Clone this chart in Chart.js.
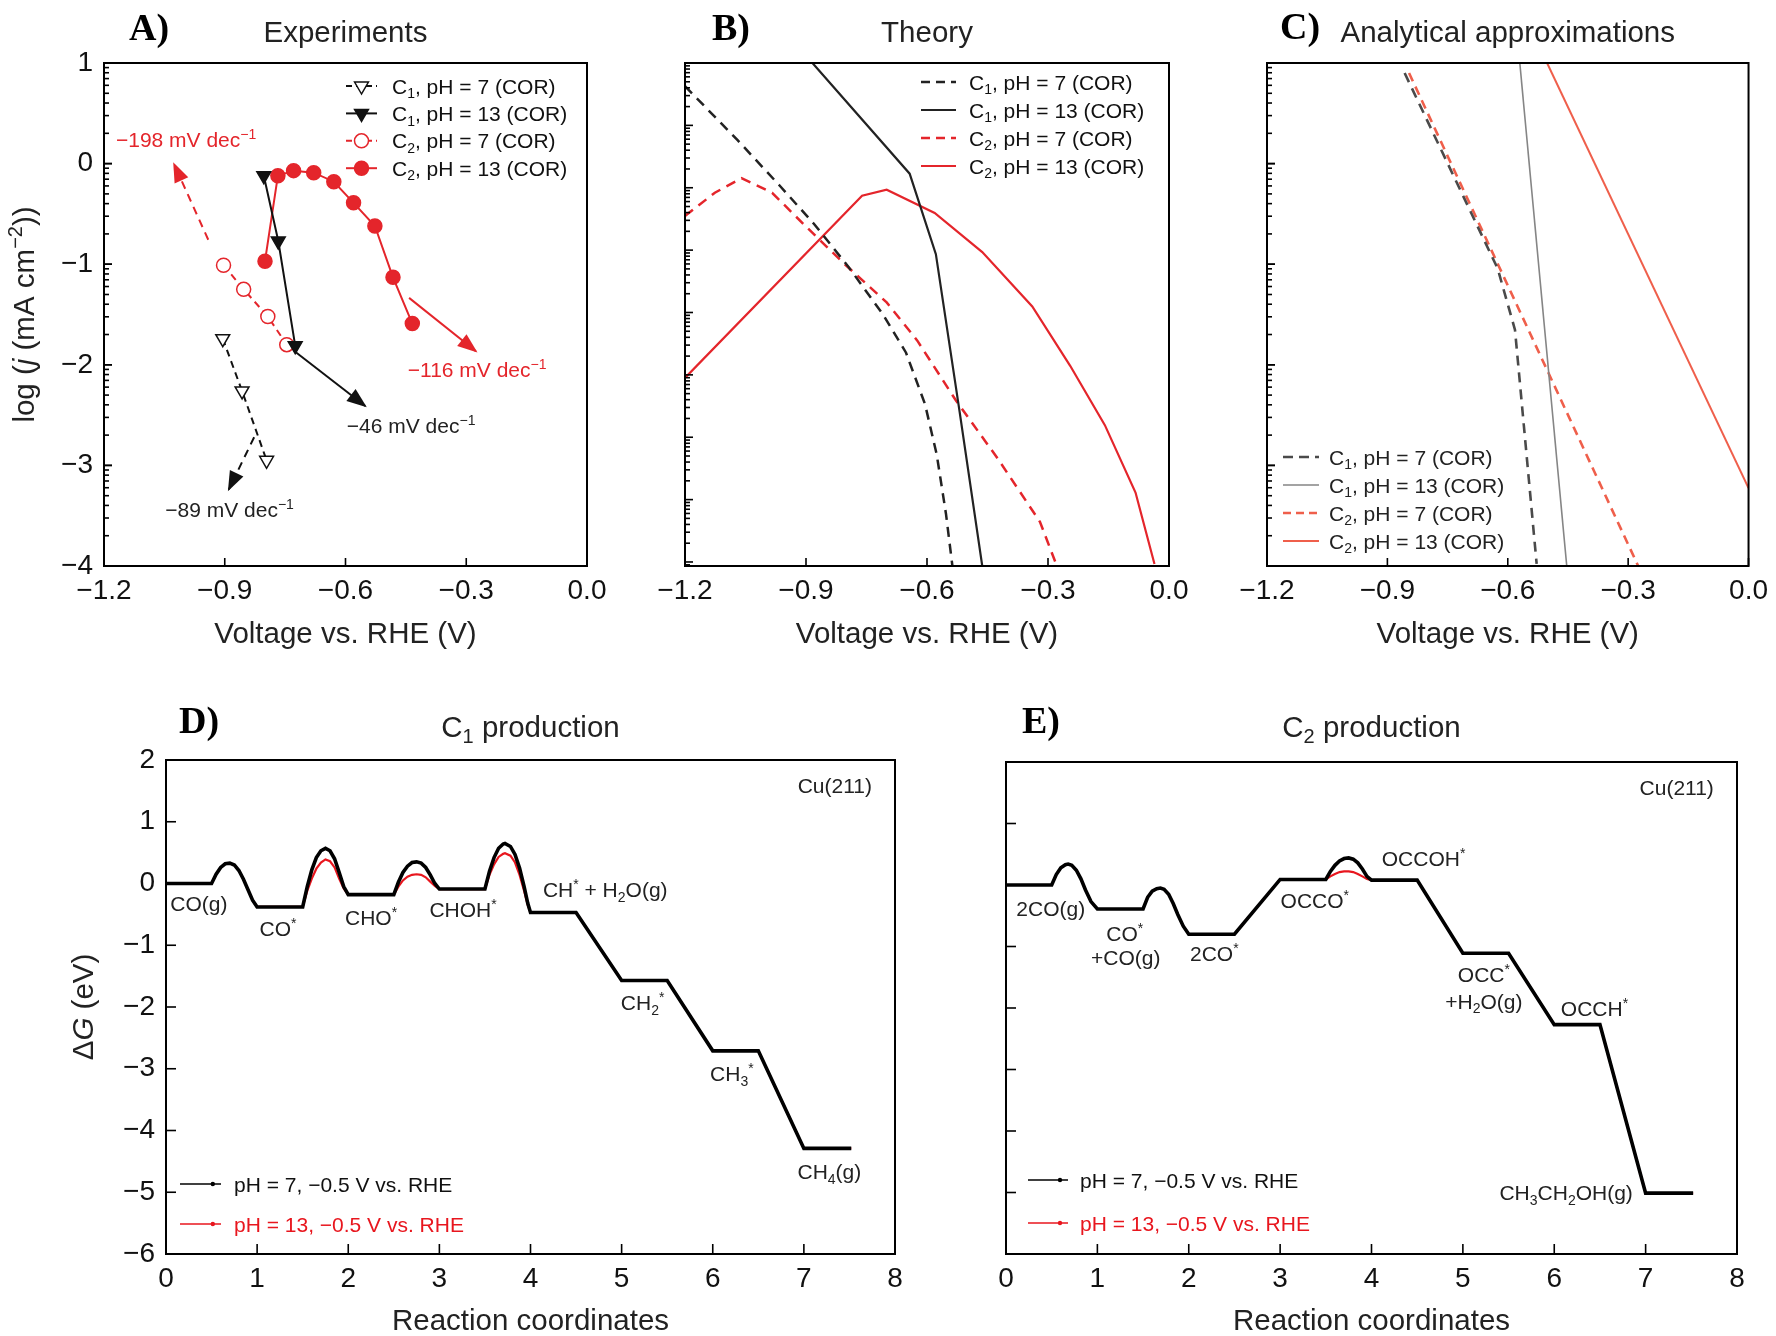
<!DOCTYPE html>
<html><head><meta charset="utf-8">
<script src="https://cdn.jsdelivr.net/npm/chart.js@4.4.1/dist/chart.umd.min.js"></script>
<style>
html,body{margin:0;padding:0;background:#fff;}
#wrap{position:relative;width:1776px;height:1336px;background:#fff;overflow:hidden;}
canvas{position:absolute;}
</style></head><body><div id="wrap">
<canvas id="cA"></canvas><canvas id="cB"></canvas><canvas id="cC"></canvas><canvas id="cD"></canvas><canvas id="cE"></canvas>
</div>
<script>
// ---------------- DATA ----------------
// Panel A: Experiments (log j vs V)
const aC1pH7X  = [-0.905, -0.857, -0.796];
const aC1pH7Y  = [-1.74, -2.26, -2.95];
const aC1pH13X = [-0.803, -0.767, -0.725];
const aC1pH13Y = [-0.12, -0.77, -1.81];
const aC2pH7X  = [-0.903, -0.853, -0.793, -0.746];
const aC2pH7Y  = [-1.01, -1.25, -1.52, -1.80];
const aC2pH13X = [-0.800, -0.768, -0.729, -0.679, -0.629, -0.580, -0.527, -0.482, -0.434];
const aC2pH13Y = [-0.97, -0.12, -0.07, -0.09, -0.18, -0.39, -0.62, -1.13, -1.59];
// Tafel-slope arrows in panel A
const slopeText = ['\u2212198 mV dec^{\u22121}', '\u221289 mV dec^{\u22121}', '\u221246 mV dec^{\u22121}', '\u2212116 mV dec^{\u22121}'];
const slopeX0 = [-0.941, -0.827, -0.725, -0.442];
const slopeY0 = [-0.757, -2.72, -1.87, -1.335];
const slopeX1 = [-1.026, -0.890, -0.551, -0.276];
const slopeY1 = [-0.004, -3.24, -2.41, -1.866];
const slopeLabelX = [-0.996, -0.888, -0.437, -0.273];
const slopeLabelY = [0.245, -3.435, -2.607, -2.046];

// Panel B: Theory
const bC1pH7X  = [-1.2, -1.069, -0.965, -0.880, -0.794, -0.709, -0.652, -0.605, -0.576, -0.553, -0.537];
const bC1pH7Y  = [0.77, 0.23, -0.22, -0.60, -1.03, -1.50, -1.88, -2.39, -2.89, -3.48, -4.0];
const bC1pH13X = [-0.884, -0.643, -0.578, -0.519, -0.463];
const bC1pH13Y = [1.0, -0.10, -0.90, -2.47, -4.0];
const bC2pH7X  = [-1.2, -1.126, -1.060, -0.984, -0.899, -0.804, -0.700, -0.624, -0.529, -0.425, -0.320, -0.278];
const bC2pH7Y  = [-0.52, -0.29, -0.145, -0.29, -0.63, -1.00, -1.38, -1.76, -2.35, -2.93, -3.56, -4.0];
const bC2pH13X = [-1.2, -0.761, -0.700, -0.581, -0.463, -0.339, -0.245, -0.159, -0.083, -0.036];
const bC2pH13Y = [-2.13, -0.32, -0.26, -0.49, -0.88, -1.42, -2.01, -2.60, -3.27, -3.98];

// Panel C: Analytical approximations
const cC1pH7X  = [-0.857, -0.625, -0.582, -0.528];
const cC1pH7Y  = [0.90, -1.045, -1.653, -3.98];
const cC1pH13X = [-0.570, -0.453];
const cC1pH13Y = [1.0, -4.0];
const cC2pH7X  = [-0.846, -0.275];
const cC2pH7Y  = [0.90, -4.0];
const cC2pH13X = [-0.502, 0.0];
const cC2pH13Y = [1.0, -3.225];

// Panel D: C1 production free-energy diagram
const dX = [0, 0.5, 0.55, 0.6, 0.65, 0.7, 0.75, 0.8, 0.85, 0.9, 0.95, 1.0,
  1.5, 1.55, 1.6, 1.65, 1.7, 1.75, 1.8, 1.85, 1.9, 1.95, 2.0,
  2.5, 2.55, 2.6, 2.65, 2.7, 2.75, 2.8, 2.85, 2.9, 2.95, 3.0,
  3.5, 3.55, 3.6, 3.65, 3.7, 3.72, 3.78, 3.83, 3.88, 3.93, 3.97, 4.0,
  4.5, 5.0, 5.5, 6.0, 6.5, 7.0, 7.52];
const dPH7 = [0, 0, 0.15, 0.26, 0.32, 0.33, 0.30, 0.21, 0.07, -0.10, -0.27, -0.38,
  -0.38, -0.05, 0.22, 0.42, 0.53, 0.57, 0.53, 0.40, 0.18, -0.05, -0.18,
  -0.18, 0.02, 0.18, 0.28, 0.34, 0.35, 0.33, 0.26, 0.14, 0.0, -0.09,
  -0.09, 0.20, 0.42, 0.57, 0.64, 0.65, 0.60, 0.47, 0.25, -0.05, -0.32, -0.47,
  -0.47, -1.57, -1.57, -2.71, -2.71, -4.29, -4.29];
const dPH13 = [0, 0, 0.15, 0.26, 0.32, 0.33, 0.30, 0.21, 0.07, -0.10, -0.27, -0.38,
  -0.38, -0.12, 0.08, 0.24, 0.34, 0.39, 0.36, 0.26, 0.08, -0.08, -0.18,
  -0.18, -0.05, 0.05, 0.11, 0.14, 0.15, 0.14, 0.10, 0.03, -0.04, -0.09,
  -0.09, 0.14, 0.31, 0.43, 0.48, 0.49, 0.45, 0.34, 0.14, -0.12, -0.35, -0.47,
  -0.47, -1.57, -1.57, -2.71, -2.71, -4.29, -4.29];
const dLabelText = ['CO(g)', 'CO^{*}', 'CHO^{*}', 'CHOH^{*}', 'CH^{*} + H_{2}O(g)', 'CH_{2}^{*}', 'CH_{3}^{*}', 'CH_{4}(g)', 'Cu(211)'];
const dLabelX = [0.36, 1.23, 2.25, 3.26, 4.82, 5.23, 6.21, 7.28, 7.34];
const dLabelY = [-0.33, -0.73, -0.55, -0.42, -0.10, -1.93, -3.08, -4.67, 1.59];

// Panel E: C2 production free-energy diagram
const eX = [0, 0.5, 0.55, 0.6, 0.65, 0.68, 0.72, 0.77, 0.82, 0.87, 0.93, 1.0,
  1.5, 1.55, 1.6, 1.65, 1.69, 1.73, 1.78, 1.83, 1.88, 1.94, 2.0,
  2.5, 3.0, 3.5, 3.55, 3.6, 3.65, 3.7, 3.75, 3.8, 3.85, 3.9, 3.95, 4.0,
  4.5, 5.0, 5.5, 6.0, 6.5, 7.0, 7.52];
const ePH7 = [0, 0, 0.17, 0.28, 0.33, 0.34, 0.32, 0.24, 0.10, -0.08, -0.27, -0.39,
  -0.39, -0.20, -0.10, -0.06, -0.05, -0.07, -0.15, -0.30, -0.48, -0.67, -0.80,
  -0.80, 0.09, 0.09, 0.22, 0.32, 0.39, 0.43, 0.44, 0.42, 0.36, 0.26, 0.14, 0.08,
  0.08, -1.11, -1.11, -2.27, -2.27, -5.01, -5.01];
const ePH13 = [0, 0, 0.17, 0.28, 0.33, 0.34, 0.32, 0.24, 0.10, -0.08, -0.27, -0.39,
  -0.39, -0.20, -0.10, -0.06, -0.05, -0.07, -0.15, -0.30, -0.48, -0.67, -0.80,
  -0.80, 0.09, 0.09, 0.14, 0.18, 0.21, 0.22, 0.22, 0.21, 0.18, 0.14, 0.10, 0.08,
  0.08, -1.11, -1.11, -2.27, -2.27, -5.01, -5.01];
const eLabelText = ['2CO(g)', 'CO^{*}', '+CO(g)', '2CO^{*}', 'OCCO^{*}', 'OCCOH^{*}', 'OCC^{*}', '+H_{2}O(g)', 'OCCH^{*}', 'CH_{3}CH_{2}OH(g)', 'Cu(211)'];
const eLabelX = [0.49, 1.30, 1.31, 2.28, 3.38, 4.57, 5.23, 5.23, 6.44, 6.13, 7.34];
const eLabelY = [-0.38, -0.78, -1.18, -1.11, -0.25, 0.44, -1.45, -1.89, -2.0, -5.0, 1.58];

// Legend labels
const seriesLabels = ['C_{1}, pH = 7 (COR)', 'C_{1}, pH = 13 (COR)', 'C_{2}, pH = 7 (COR)', 'C_{2}, pH = 13 (COR)'];
const energyLabels = ['pH = 7, \u22120.5 V vs. RHE', 'pH = 13, \u22120.5 V vs. RHE'];

// ---------------- STYLE / HELPERS ----------------
const SANS = '"Liberation Sans", Arial, Helvetica, sans-serif';
const SERIF = '"Liberation Serif", "Times New Roman", serif';
const BLK = '#111111';
const RED = '#e4252b';
const CRED = '#ef5f4b';
const GRAYD = '#4a4a4a';
const GRAYS = '#858585';
const TICK = 28, TITLE = 29.5, SMALL = 21;
Chart.defaults.font.family = SANS;

const xy = (xs, ys) => xs.map((x, i) => ({x, y: ys[i]}));
const fmt1 = v => { const r = Math.round(v * 10) / 10; return r === 0 ? '0.0' : (r < 0 ? '\u2212' : '') + Math.abs(r).toFixed(1); };
const fmt0 = v => { const r = Math.round(v); return (r < 0 ? '\u2212' : '') + Math.abs(r); };

function parseRich(s) {
  const parts = []; const re = /([_^~])\{([^}]*)\}/g; let last = 0, m;
  while ((m = re.exec(s))) {
    if (m.index > last) parts.push({t: s.slice(last, m.index), k: 'n'});
    parts.push({t: m[2], k: m[1]}); last = re.lastIndex;
  }
  if (last < s.length) parts.push({t: s.slice(last), k: 'n'});
  return parts;
}
function drawRich(ctx, s, x, y, o) {
  const size = o.size || 20, fam = o.family || SANS, wt = o.weight || 'normal';
  const parts = parseRich(s);
  const fontFor = k => (k === '_' || k === '^') ? `${wt} ${Math.round(size * 0.68)}px ${fam}` :
    (k === '~' ? `italic ${wt} ${size}px ${fam}` : `${wt} ${size}px ${fam}`);
  ctx.save(); ctx.translate(x, y); if (o.rotate) ctx.rotate(o.rotate);
  let w = 0; parts.forEach(p => { ctx.font = fontFor(p.k); p.w = ctx.measureText(p.t).width; w += p.w; });
  let cx = o.align === 'center' ? -w / 2 : (o.align === 'right' ? -w : 0);
  const base = o.middle ? size * 0.36 : 0;
  ctx.fillStyle = o.color || BLK; ctx.textBaseline = 'alphabetic'; ctx.textAlign = 'left';
  parts.forEach(p => {
    ctx.font = fontFor(p.k);
    const dy = p.k === '_' ? size * 0.22 : (p.k === '^' ? -size * 0.38 : 0);
    ctx.fillText(p.t, cx, base + dy); cx += p.w;
  });
  ctx.restore();
}
function drawMarker(ctx, style, x, y, r, fill, stroke) {
  ctx.save(); ctx.beginPath(); ctx.setLineDash([]);
  if (style === 'tri') { ctx.moveTo(x, y + r); ctx.lineTo(x - r * 0.866, y - r * 0.5); ctx.lineTo(x + r * 0.866, y - r * 0.5); ctx.closePath(); }
  else ctx.arc(x, y, r, 0, Math.PI * 2);
  ctx.fillStyle = fill; ctx.fill(); ctx.lineWidth = 1.5; ctx.strokeStyle = stroke; ctx.stroke(); ctx.restore();
}

const decoPlugin = {
  id: 'deco',
  afterDatasetsDraw(chart) {
    const o = chart.options.plugins.deco || {};
    const ctx = chart.ctx, a = chart.chartArea, xs = chart.scales.x, ys = chart.scales.y;
    ctx.save();
    const seg = (x0, y0, x1, y1) => { ctx.beginPath(); ctx.moveTo(x0, y0); ctx.lineTo(x1, y1); ctx.stroke(); };
    // arrow heads
    chart.data.datasets.forEach((ds, i) => {
      if (!ds.arrowHead) return;
      const pts = chart.getDatasetMeta(i).data; const p1 = pts[pts.length - 1], p0 = pts[pts.length - 2];
      const ang = Math.atan2(p1.y - p0.y, p1.x - p0.x), L = 18, W = 7.5;
      const bx = p1.x - L * Math.cos(ang), by = p1.y - L * Math.sin(ang);
      ctx.beginPath(); ctx.moveTo(p1.x + 2 * Math.cos(ang), p1.y + 2 * Math.sin(ang));
      ctx.lineTo(bx + W * Math.sin(ang), by - W * Math.cos(ang));
      ctx.lineTo(bx - W * Math.sin(ang), by + W * Math.cos(ang)); ctx.closePath();
      ctx.fillStyle = ds.borderColor; ctx.fill();
    });
    // frame
    ctx.setLineDash([]); ctx.strokeStyle = '#000'; ctx.lineWidth = 2;
    ctx.strokeRect(a.left, a.top, a.right - a.left, a.bottom - a.top);
    // inward ticks
    ctx.lineWidth = 1.6;
    const ML = o.majorLen || 8, mL = o.minorLen || 5;
    xs.ticks.forEach(t => { const px = xs.getPixelForValue(t.value); seg(px, a.bottom, px, a.bottom - ML); });
    if (o.yMajor !== false) ys.ticks.forEach(t => { const py = ys.getPixelForValue(t.value); seg(a.left, py, a.left + ML, py); });
    if (o.minor) {
      const d = o.minor.decade;
      for (let T = o.minor.top; T > ys.min - 1e-6; T -= d) {
        const pT = ys.getPixelForValue(T); seg(a.left, pT, a.left + ML, pT);
        for (let k = 2; k <= 9; k++) {
          const v = T - d + d * Math.log10(k); if (v < ys.min) continue;
          const py = ys.getPixelForValue(v); seg(a.left, py, a.left + mL, py);
        }
      }
    }
    // legend
    if (o.legend) {
      const L = o.legend;
      L.items.forEach((it, i) => {
        const y = a.top + L.y + i * L.dy, x0 = a.left + L.x0, x1 = a.left + L.x1;
        ctx.strokeStyle = it.color; ctx.lineWidth = it.lw || 2; ctx.setLineDash(it.dash || []);
        seg(x0, y, x1, y); ctx.setLineDash([]);
        if (it.marker) drawMarker(ctx, it.marker, (x0 + x1) / 2, y, it.r, it.fill, it.color);
        if (it.dot) { ctx.fillStyle = it.color; ctx.beginPath(); ctx.arc(x0 + (x1 - x0) * 0.8, y, 2.2, 0, Math.PI * 2); ctx.fill(); }
        drawRich(ctx, it.label, a.left + L.tx, y, {size: L.size, color: it.textColor || BLK, middle: true});
      });
    }
    // texts
    (o.texts || []).forEach(t => {
      let x, y;
      if (t.data) { x = xs.getPixelForValue(t.x); y = ys.getPixelForValue(t.y); }
      else {
        x = (t.ax === 'left' ? a.left : t.ax === 'right' ? a.right : (a.left + a.right) / 2) + (t.dx || 0);
        y = (t.ay === 'top' ? a.top : t.ay === 'bottom' ? a.bottom : (a.top + a.bottom) / 2) + (t.dy || 0);
      }
      drawRich(ctx, t.s, x, y, t);
    });
    ctx.restore();
  }
};

function makeChart(id, rect, frame, datasets, xo, yo, deco) {
  const cv = document.getElementById(id);
  cv.width = rect.w; cv.height = rect.h;
  cv.style.left = rect.l + 'px'; cv.style.top = rect.t + 'px';
  cv.style.width = rect.w + 'px'; cv.style.height = rect.h + 'px';
  const yW = frame.l - rect.l, xH = rect.t + rect.h - frame.b;
  return new Chart(cv, {
    type: 'line',
    data: {datasets},
    options: {
      responsive: false, animation: false, events: [],
      layout: {padding: {left: 0, bottom: 0, top: frame.t - rect.t, right: rect.l + rect.w - frame.r}},
      plugins: {legend: {display: false}, tooltip: {enabled: false}, deco},
      elements: {point: {radius: 0}, line: {tension: 0}},
      scales: {
        x: {type: 'linear', min: xo.min, max: xo.max,
            ticks: {stepSize: xo.step, callback: xo.fmt, color: BLK, font: {size: TICK, family: SANS}, padding: 8, maxRotation: 0, autoSkip: false},
            grid: {display: false, drawTicks: false}, border: {display: false},
            afterFit: s => { s.height = xH; }},
        y: {type: 'linear', min: yo.min, max: yo.max,
            ticks: {display: yo.show, stepSize: 1, callback: fmt0, color: BLK, font: {size: TICK, family: SANS}, padding: 11},
            grid: {display: false, drawTicks: false}, border: {display: false},
            afterFit: s => { s.width = yW; }}
      }
    },
    plugins: [decoPlugin]
  });
}

const line = (xs, ys, color, width, dash, extra) => Object.assign({data: xy(xs, ys), borderColor: color, backgroundColor: color, borderWidth: width, borderDash: dash || [], pointRadius: 0, fill: false}, extra || {});
const xV = {min: -1.2, max: 0, step: 0.3, fmt: fmt1};
const yLog = {min: -4, max: 1};
const xRC = {min: 0, max: 8, step: 1, fmt: fmt0};
const yG = {min: -6, max: 2};
const ROT = -Math.PI / 2;
const LETTER = {size: 38, weight: 'bold', family: SERIF, color: '#000'};

// ---------------- PANEL A ----------------
const arrowSets = slopeText.map((t, i) => line([slopeX0[i], slopeX1[i]], [slopeY0[i], slopeY1[i]],
  (i === 0 || i === 3) ? RED : BLK, 2, (i < 2) ? [8, 6] : [], {arrowHead: true}));
makeChart('cA', {l: 0, t: 0, w: 640, h: 660}, {l: 104, t: 63, r: 587, b: 566}, [
  line(aC1pH7X, aC1pH7Y, BLK, 2, [7, 5], {pointStyle: 'triangle', pointRotation: 180, pointRadius: 8, pointBackgroundColor: '#fff', pointBorderColor: BLK, pointBorderWidth: 1.5}),
  line(aC1pH13X, aC1pH13Y, BLK, 2, [], {pointStyle: 'triangle', pointRotation: 180, pointRadius: 8, pointBackgroundColor: BLK, pointBorderColor: BLK, pointBorderWidth: 1.5}),
  line(aC2pH7X, aC2pH7Y, RED, 2, [7, 5], {pointStyle: 'circle', pointRadius: 7, pointBackgroundColor: '#fff', pointBorderColor: RED, pointBorderWidth: 1.5}),
  line(aC2pH13X, aC2pH13Y, RED, 2, [], {pointStyle: 'circle', pointRadius: 7, pointBackgroundColor: RED, pointBorderColor: RED, pointBorderWidth: 1.5}),
  ...arrowSets
], xV, Object.assign({show: true}, yLog), {
  minor: {top: 1, decade: 1},
  legend: {x0: 242, x1: 273, tx: 288, y: 23, dy: 27.4, size: SMALL, items: [
    {label: seriesLabels[0], color: BLK, dash: [6, 4], marker: 'tri', r: 8, fill: '#fff'},
    {label: seriesLabels[1], color: BLK, marker: 'tri', r: 8, fill: BLK},
    {label: seriesLabels[2], color: RED, dash: [6, 4], marker: 'circle', r: 7, fill: '#fff'},
    {label: seriesLabels[3], color: RED, marker: 'circle', r: 7, fill: RED}]},
  texts: [
    {s: 'Experiments', ax: 'center', ay: 'top', dy: -21, size: TITLE, align: 'center', color: '#222'},
    Object.assign({s: 'A)', ax: 'left', dx: 25, ay: 'top', dy: -23}, LETTER),
    {s: 'log (~{j} (mA cm^{\u22122}))', ax: 'left', dx: -81, ay: 'middle', size: TITLE, align: 'center', rotate: ROT, middle: true, color: '#222'},
    {s: 'Voltage vs. RHE (V)', ax: 'center', ay: 'bottom', dy: 77, size: TITLE, align: 'center', color: '#222'},
    ...slopeText.map((s, i) => ({s, data: true, x: slopeLabelX[i], y: slopeLabelY[i], size: SMALL, align: 'center', middle: true, color: (i === 0 || i === 3) ? RED : '#222'}))
  ]
});

// ---------------- PANEL B ----------------
makeChart('cB', {l: 640, t: 0, w: 560, h: 660}, {l: 685, t: 63, r: 1169, b: 566}, [
  line(bC1pH7X, bC1pH7Y, '#222', 2.5, [10, 7]),
  line(bC1pH13X, bC1pH13Y, '#222', 2.2),
  line(bC2pH7X, bC2pH7Y, RED, 2.5, [10, 7]),
  line(bC2pH13X, bC2pH13Y, RED, 2.2)
], xV, Object.assign({show: false}, yLog), {
  yMajor: false, minor: {top: 1, decade: 0.62},
  legend: {x0: 236, x1: 271, tx: 284, y: 19, dy: 28, size: SMALL, items: [
    {label: seriesLabels[0], color: '#222', dash: [9, 6], lw: 2.5},
    {label: seriesLabels[1], color: '#222', lw: 2.2},
    {label: seriesLabels[2], color: RED, dash: [9, 6], lw: 2.5},
    {label: seriesLabels[3], color: RED, lw: 2.2}]},
  texts: [
    {s: 'Theory', ax: 'center', ay: 'top', dy: -21, size: TITLE, align: 'center', color: '#222'},
    Object.assign({s: 'B)', ax: 'left', dx: 27, ay: 'top', dy: -23}, LETTER),
    {s: 'Voltage vs. RHE (V)', ax: 'center', ay: 'bottom', dy: 77, size: TITLE, align: 'center', color: '#222'}
  ]
});

// ---------------- PANEL C ----------------
makeChart('cC', {l: 1200, t: 0, w: 576, h: 660}, {l: 1267, t: 63, r: 1752, b: 566}, [
  line(cC1pH7X, cC1pH7Y, GRAYD, 2.6, [10, 7]),
  line(cC1pH13X, cC1pH13Y, GRAYS, 1.6),
  line(cC2pH7X, cC2pH7Y, CRED, 2.6, [9, 6]),
  line(cC2pH13X, cC2pH13Y, CRED, 2)
], xV, Object.assign({show: false}, yLog), {
  minor: {top: 1, decade: 1},
  legend: {x0: 16, x1: 52, tx: 62, y: 394, dy: 28, size: SMALL, items: [
    {label: seriesLabels[0], color: GRAYD, dash: [10, 6], lw: 2.6, textColor: '#222'},
    {label: seriesLabels[1], color: GRAYS, lw: 1.6, textColor: '#222'},
    {label: seriesLabels[2], color: CRED, dash: [8, 5], lw: 2.4, textColor: '#222'},
    {label: seriesLabels[3], color: CRED, lw: 2, textColor: '#222'}]},
  texts: [
    {s: 'Analytical approximations', ax: 'center', ay: 'top', dy: -21, size: TITLE, align: 'center', color: '#222'},
    Object.assign({s: 'C)', ax: 'left', dx: 13, ay: 'top', dy: -24}, LETTER),
    {s: 'Voltage vs. RHE (V)', ax: 'center', ay: 'bottom', dy: 77, size: TITLE, align: 'center', color: '#222'}
  ]
});

// ---------------- PANEL D ----------------
makeChart('cD', {l: 0, t: 660, w: 960, h: 676}, {l: 166, t: 760, r: 895, b: 1254}, [
  line(dX, dPH7, '#000', 3.6),
  line(dX, dPH13, '#e8161e', 2.2)
], xRC, Object.assign({show: true}, yG), {
  majorLen: 10,
  legend: {x0: 14, x1: 55, tx: 68, y: 424, dy: 40, size: SMALL, items: [
    {label: energyLabels[0], color: '#000', lw: 1.5, dot: true, textColor: '#111'},
    {label: energyLabels[1], color: '#e8161e', lw: 1.5, dot: true, textColor: '#e8161e'}]},
  texts: [
    {s: 'C_{1} production', ax: 'center', ay: 'top', dy: -23, size: TITLE, align: 'center', color: '#222'},
    Object.assign({s: 'D)', ax: 'left', dx: 13, ay: 'top', dy: -27}, LETTER),
    {s: '\u0394~{G} (eV)', ax: 'left', dx: -84, ay: 'middle', size: TITLE, align: 'center', rotate: ROT, middle: true, color: '#222'},
    {s: 'Reaction coordinates', ax: 'center', ay: 'bottom', dy: 76, size: TITLE, align: 'center', color: '#222'},
    ...dLabelText.map((s, i) => ({s, data: true, x: dLabelX[i], y: dLabelY[i], size: SMALL, align: 'center', middle: true, color: '#222'}))
  ]
});

// ---------------- PANEL E ----------------
makeChart('cE', {l: 960, t: 660, w: 816, h: 676}, {l: 1006, t: 762, r: 1737, b: 1254}, [
  line(eX, ePH7, '#000', 3.6),
  line(eX, ePH13, '#e8161e', 2.2)
], xRC, Object.assign({show: false}, yG), {
  majorLen: 10,
  legend: {x0: 22, x1: 62, tx: 74, y: 418, dy: 43, size: SMALL, items: [
    {label: energyLabels[0], color: '#000', lw: 1.5, dot: true, textColor: '#111'},
    {label: energyLabels[1], color: '#e8161e', lw: 1.5, dot: true, textColor: '#e8161e'}]},
  texts: [
    {s: 'C_{2} production', ax: 'center', ay: 'top', dy: -25, size: TITLE, align: 'center', color: '#222'},
    Object.assign({s: 'E)', ax: 'left', dx: 16, ay: 'top', dy: -29}, LETTER),
    {s: 'Reaction coordinates', ax: 'center', ay: 'bottom', dy: 76, size: TITLE, align: 'center', color: '#222'},
    ...eLabelText.map((s, i) => ({s, data: true, x: eLabelX[i], y: eLabelY[i], size: SMALL, align: 'center', middle: true, color: '#222'}))
  ]
});
</script></body></html>
